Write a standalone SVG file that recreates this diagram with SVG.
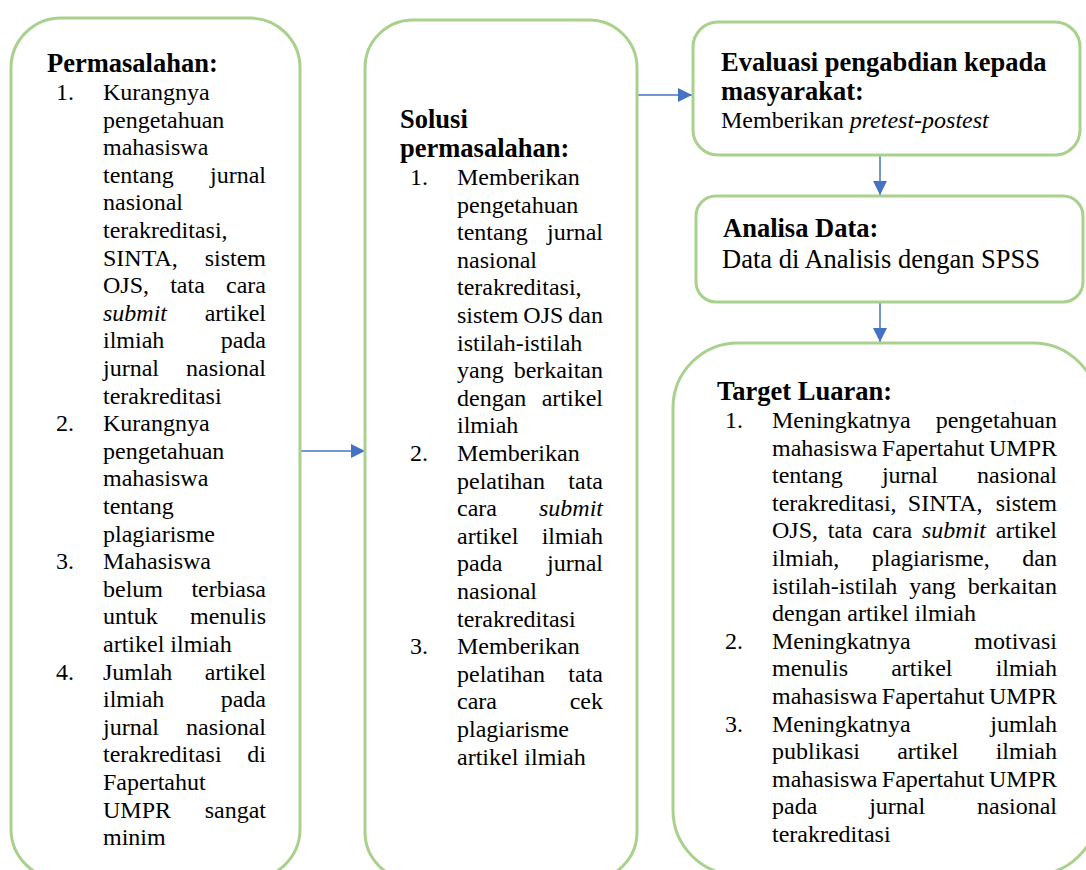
<svg xmlns="http://www.w3.org/2000/svg" width="1086" height="870" viewBox="0 0 1086 870">
<style>
.box{fill:#fff;stroke:#A9D18E;stroke-width:3}
text{font-family:"Liberation Serif","Times New Roman",serif;font-size:24px;fill:#000}
.h{font-weight:bold;font-size:26.5px}
.b{font-size:26.5px}
.r{text-anchor:end}
.i{font-style:italic}
.c line{stroke:#4472C4;stroke-width:1.5;fill:none}
</style>
<defs>
<marker id="ah" markerUnits="userSpaceOnUse" markerWidth="14" markerHeight="14" viewBox="0 0 14 14" refX="14" refY="7" orient="auto">
<path d="M0,0 L14,7 L0,14 Z" fill="#4472C4"/>
</marker>
</defs>
<rect width="1086" height="870" fill="#fff"/>

<g class="c" id="connectors">
<line x1="300" y1="451" x2="365" y2="451" marker-end="url(#ah)"/>
<line x1="637" y1="95" x2="692" y2="95" marker-end="url(#ah)"/>
<line x1="880" y1="156" x2="880" y2="195" marker-end="url(#ah)"/>
<line x1="880" y1="302" x2="880" y2="342" marker-end="url(#ah)"/>
</g>

<g id="permasalahan">
<rect class="box" x="11" y="18" width="289" height="861" rx="50"/>
<text class="h" x="47" y="71.7">Permasalahan:</text>
<text x="56" y="100">1.</text><text x="103" y="100">Kurangnya</text>
<text x="103" y="127.6">pengetahuan</text>
<text x="103" y="155.2">mahasiswa</text>
<text x="103" y="182.8">tentang</text><text class="r" x="266" y="182.8">jurnal</text>
<text x="103" y="210.4">nasional</text>
<text x="103" y="238">terakreditasi,</text>
<text x="103" y="265.6">SINTA,</text><text class="r" x="266" y="265.6">sistem</text>
<text x="103" y="293.2">OJS,</text><text x="170.2" y="293.2">tata</text><text class="r" x="266" y="293.2">cara</text>
<text class="i" x="103" y="320.8">submit</text><text class="r" x="266" y="320.8">artikel</text>
<text x="103" y="348.4">ilmiah</text><text class="r" x="266" y="348.4">pada</text>
<text x="103" y="376">jurnal</text><text class="r" x="266" y="376">nasional</text>
<text x="103" y="403.6">terakreditasi</text>
<text x="56" y="431.2">2.</text><text x="103" y="431.2">Kurangnya</text>
<text x="103" y="458.8">pengetahuan</text>
<text x="103" y="486.4">mahasiswa</text>
<text x="103" y="514">tentang</text>
<text x="103" y="541.6">plagiarisme</text>
<text x="56" y="569.2">3.</text><text x="103" y="569.2">Mahasiswa</text>
<text x="103" y="596.8">belum</text><text class="r" x="266" y="596.8">terbiasa</text>
<text x="103" y="624.4">untuk</text><text class="r" x="266" y="624.4">menulis</text>
<text x="103" y="652">artikel ilmiah</text>
<text x="56" y="679.6">4.</text><text x="103" y="679.6">Jumlah</text><text class="r" x="266" y="679.6">artikel</text>
<text x="103" y="707.2">ilmiah</text><text class="r" x="266" y="707.2">pada</text>
<text x="103" y="734.8">jurnal</text><text class="r" x="266" y="734.8">nasional</text>
<text x="103" y="762.4">terakreditasi</text><text class="r" x="266" y="762.4">di</text>
<text x="103" y="790">Fapertahut</text>
<text x="103" y="817.6">UMPR</text><text class="r" x="266" y="817.6">sangat</text>
<text x="103" y="845.2">minim</text>
</g>

<g id="solusi">
<rect class="box" x="365" y="20" width="272" height="860" rx="48"/>
<text class="h" x="400" y="128">Solusi</text>
<text class="h" x="400" y="157">permasalahan:</text>
<text x="410" y="185">1.</text><text x="457" y="185">Memberikan</text>
<text x="457" y="212.6">pengetahuan</text>
<text x="457" y="240.2">tentang</text><text class="r" x="603" y="240.2">jurnal</text>
<text x="457" y="267.8">nasional</text>
<text x="457" y="295.4">terakreditasi,</text>
<text x="457" y="323">sistem</text><text x="523.3" y="323">OJS</text><text class="r" x="603" y="323">dan</text>
<text x="457" y="350.6">istilah-istilah</text>
<text x="457" y="378.2">yang</text><text class="r" x="603" y="378.2">berkaitan</text>
<text x="457" y="405.8">dengan</text><text class="r" x="603" y="405.8">artikel</text>
<text x="457" y="433.4">ilmiah</text>
<text x="410" y="461">2.</text><text x="457" y="461">Memberikan</text>
<text x="457" y="488.6">pelatihan</text><text class="r" x="603" y="488.6">tata</text>
<text x="457" y="516.2">cara</text><text class="r i" x="603" y="516.2">submit</text>
<text x="457" y="543.8">artikel</text><text class="r" x="603" y="543.8">ilmiah</text>
<text x="457" y="571.4">pada</text><text class="r" x="603" y="571.4">jurnal</text>
<text x="457" y="599">nasional</text>
<text x="457" y="626.6">terakreditasi</text>
<text x="410" y="654.2">3.</text><text x="457" y="654.2">Memberikan</text>
<text x="457" y="681.8">pelatihan</text><text class="r" x="603" y="681.8">tata</text>
<text x="457" y="709.4">cara</text><text class="r" x="603" y="709.4">cek</text>
<text x="457" y="737">plagiarisme</text>
<text x="457" y="764.6">artikel ilmiah</text>
</g>

<g id="evaluasi">
<rect class="box" x="693" y="22" width="387" height="133" rx="25"/>
<text class="h" x="721" y="70.5">Evaluasi pengabdian kepada</text>
<text class="h" x="721" y="100">masyarakat:</text>
<text x="721" y="128">Memberikan <tspan class="i">pretest-postest</tspan></text>
</g>

<g id="analisa">
<rect class="box" x="696" y="196" width="387" height="106" rx="20"/>
<text class="h" x="723" y="237">Analisa Data:</text>
<text class="b" x="722" y="267.5">Data di Analisis dengan SPSS</text>
</g>

<g id="target">
<rect class="box" x="673" y="343" width="425" height="532" rx="65"/>
<text class="h" x="717" y="400">Target Luaran:</text>
<text x="725" y="428">1.</text><text x="772" y="428">Meningkatnya</text><text class="r" x="1057" y="428">pengetahuan</text>
<text x="772" y="455.6">mahasiswa</text><text x="881.8" y="455.6">Fapertahut</text><text class="r" x="1057" y="455.6">UMPR</text>
<text x="772" y="483.2">tentang</text><text x="881.9" y="483.2">jurnal</text><text class="r" x="1057" y="483.2">nasional</text>
<text x="772" y="510.8">terakreditasi,</text><text x="907.8" y="510.8">SINTA,</text><text class="r" x="1057" y="510.8">sistem</text>
<text x="772" y="538.4">OJS,</text><text x="827.8" y="538.4">tata</text><text x="872.2" y="538.4">cara</text><text class="i" x="922" y="538.4">submit</text><text class="r" x="1057" y="538.4">artikel</text>
<text x="772" y="566">ilmiah,</text><text x="871.8" y="566">plagiarisme,</text><text class="r" x="1057" y="566">dan</text>
<text x="772" y="593.6">istilah-istilah</text><text x="909.2" y="593.6">yang</text><text class="r" x="1057" y="593.6">berkaitan</text>
<text x="772" y="621.2">dengan artikel ilmiah</text>
<text x="725" y="648.8">2.</text><text x="772" y="648.8">Meningkatnya</text><text class="r" x="1057" y="648.8">motivasi</text>
<text x="772" y="676.4">menulis</text><text x="891.2" y="676.4">artikel</text><text class="r" x="1057" y="676.4">ilmiah</text>
<text x="772" y="704">mahasiswa</text><text x="881.8" y="704">Fapertahut</text><text class="r" x="1057" y="704">UMPR</text>
<text x="725" y="731.6">3.</text><text x="772" y="731.6">Meningkatnya</text><text class="r" x="1057" y="731.6">jumlah</text>
<text x="772" y="759.2">publikasi</text><text x="897.2" y="759.2">artikel</text><text class="r" x="1057" y="759.2">ilmiah</text>
<text x="772" y="786.8">mahasiswa</text><text x="881.8" y="786.8">Fapertahut</text><text class="r" x="1057" y="786.8">UMPR</text>
<text x="772" y="814.4">pada</text><text x="869.2" y="814.4">jurnal</text><text class="r" x="1057" y="814.4">nasional</text>
<text x="772" y="842">terakreditasi</text>
</g>
</svg>
